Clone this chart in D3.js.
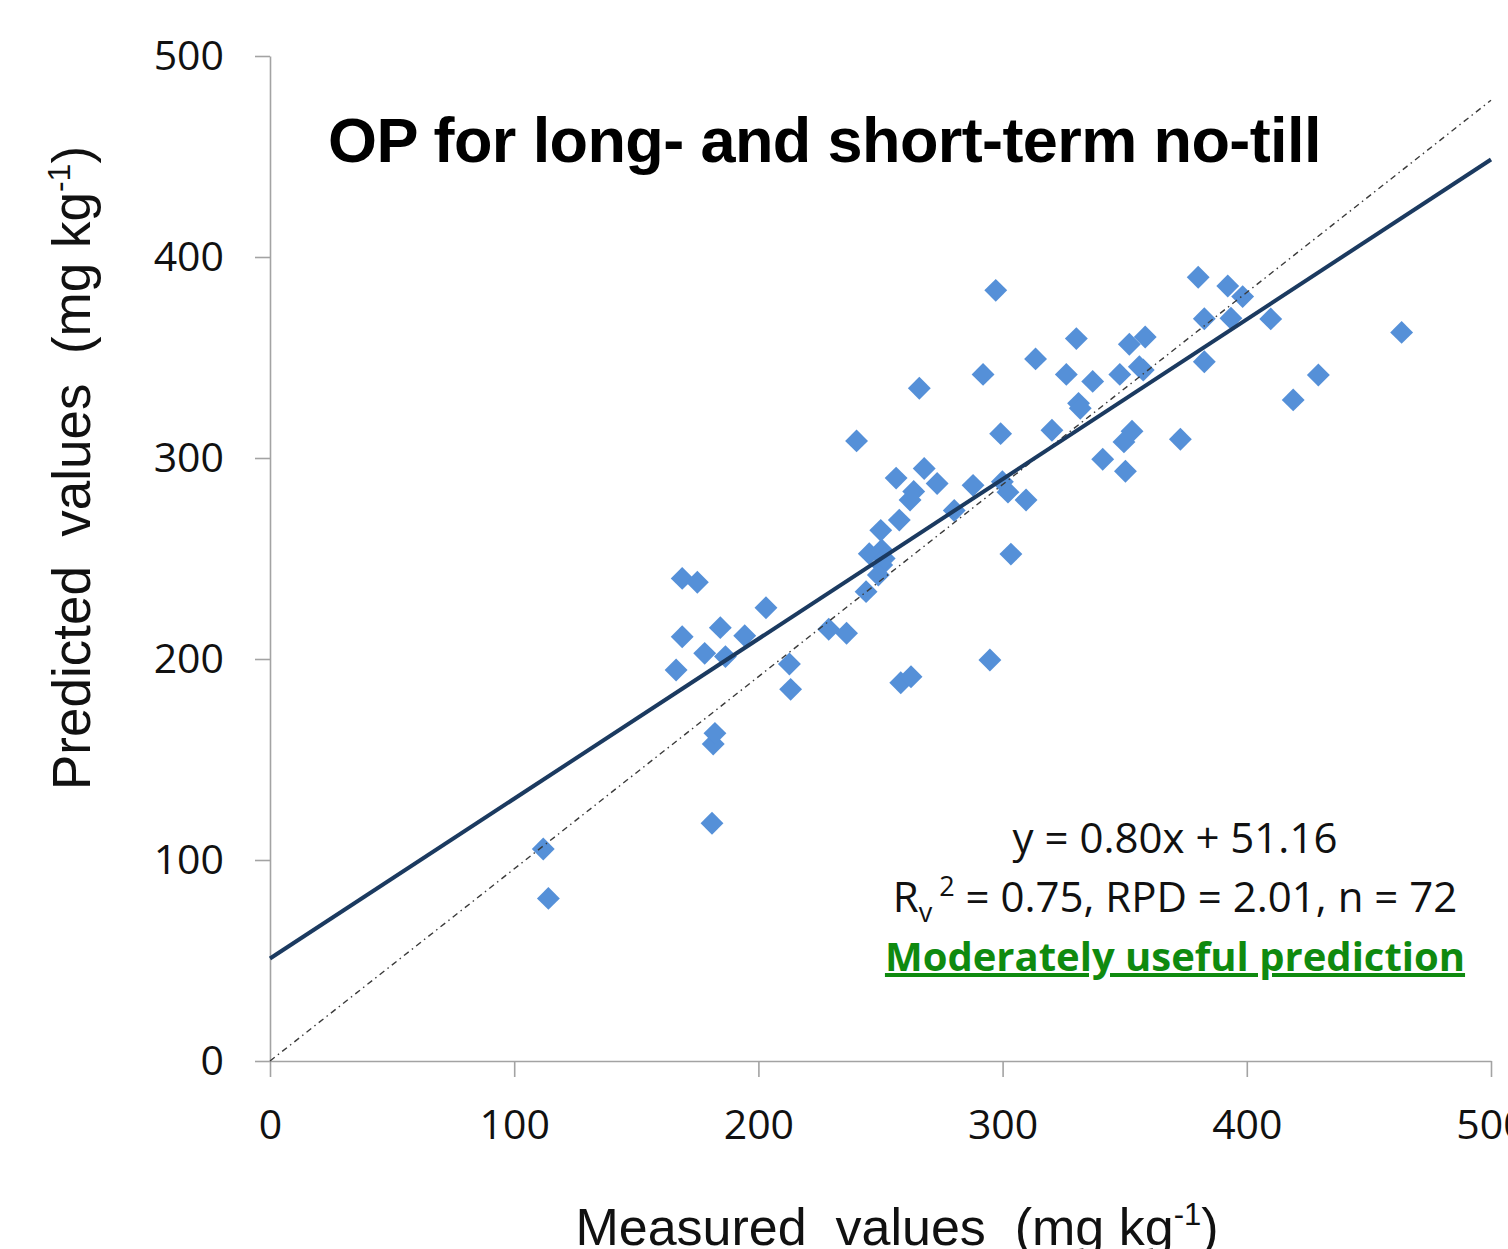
<!DOCTYPE html>
<html><head><meta charset="utf-8">
<script src="https://cdn.jsdelivr.net/npm/d3@7"></script>
<style>body{margin:0;background:#fff;overflow:hidden} svg{display:block}</style>
</head><body><svg id="c" width="1508" height="1249"></svg>
<script>
const measured = [111.9,114.0,166.3,168.8,168.8,175.0,178.0,181.0,181.5,182.2,184.4,186.5,194.4,203.1,212.7,213.2,228.8,236.1,
  240.2,244.1,245.4,249.1,250.5,250.5,250.1,251.5,256.4,257.7,258.3,262.1,262.5,263.6,265.9,267.9,273.2,280.2,287.9,292.0,
  294.8,297.2,299.2,299.9,302.2,303.4,309.6,313.5,320.2,326.1,330.2,331.1,331.8,336.9,341.0,348.0,349.7,350.3,351.9,353.0,
  356.0,357.6,358.4,372.8,380.1,382.6,382.6,392.2,393.5,398.3,409.8,419.0,429.3,463.4];
const predicted = [105.5,80.9,194.5,240.1,211.1,238.2,202.8,118.3,157.7,163.0,215.6,201.2,211.6,225.5,197.5,184.9,214.8,212.8,
  308.5,233.5,252.4,241.8,254.2,246.8,264.0,250.0,290.0,269.1,188.2,279.1,191.2,283.3,334.7,294.8,287.3,273.9,286.4,341.6,
  199.5,383.4,312.1,288.2,283.0,252.2,279.1,349.3,313.8,341.6,359.4,327.2,324.7,338.1,299.4,341.6,308.0,293.4,356.6,313.3,
  345.4,343.8,360.2,309.3,389.9,369.3,347.9,385.6,369.5,380.3,369.2,328.9,341.3,362.5];
const xTicks = [0,100,200,300,400,500];
const yTicks = [0,100,200,300,400,500];
const trendLine = [[0,51.0],[500,448.5]];
const refLine = [[0,0],[500,478]];
const titleText = "OP for long- and short-term no-till";
const eqText = "y = 0.80x + 51.16";
const statsParts = ["R","v"," 2"," = 0.75, RPD = 2.01, n = 72"];
const verdictText = "Moderately useful prediction";

const svg = d3.select("#c");
const x = d3.scaleLinear().domain([0,500]).range([270,1491]);
const y = d3.scaleLinear().domain([0,500]).range([1061,56]);
const axisColor = "#a3a3a3";
const tickFont = "'Open Sans', sans-serif";

// axes
const gx = svg.append("g").attr("transform","translate(0,1061)")
  .call(d3.axisBottom(x).tickValues(xTicks).tickSize(16).tickSizeOuter(0).tickFormat(d3.format("d")));
gx.selectAll("text").attr("y",49).attr("dy","0.71em");
const gy = svg.append("g").attr("transform","translate(270,0)")
  .call(d3.axisLeft(y).tickValues(yTicks).tickSize(15).tickSizeOuter(0).tickFormat(d3.format("d")));
gy.selectAll("text").attr("x",-46).attr("dy","0.34em");
[gx,gy].forEach(g=>{
  g.select(".domain").attr("stroke",axisColor).attr("stroke-width",1.6);
  g.selectAll(".tick line").attr("stroke",axisColor).attr("stroke-width",1.6);
  g.selectAll("text").attr("font-family",tickFont).attr("font-size",41).attr("fill","#111");
});

// points
const sq = d3.symbol().type(d3.symbolSquare).size(262);
svg.append("g").selectAll("path").data(measured).join("path")
  .attr("d",sq)
  .attr("transform",(d,i)=>`translate(${x(d)},${y(predicted[i])}) rotate(45)`)
  .attr("fill","#5590d8");

// lines
const line = d3.line().x(d=>x(d[0])).y(d=>y(d[1]));
svg.append("path").datum(refLine).attr("d",line).attr("fill","none")
  .attr("stroke","#3a3a3a").attr("stroke-width",1.4).attr("stroke-dasharray","6,4,1.5,4");
svg.append("path").datum(trendLine).attr("d",line).attr("fill","none")
  .attr("stroke","#1b3a60").attr("stroke-width",4);

// title
svg.append("text").attr("x",328).attr("y",162)
  .attr("font-family","'Liberation Sans', Arial, sans-serif").attr("font-weight","bold")
  .attr("font-size",63).attr("letter-spacing",-0.6).attr("fill","#000").text(titleText);

// axis titles
const titleFont = "'Liberation Sans', Arial, sans-serif";
const xl = svg.append("text").attr("x",897).attr("y",1245).attr("text-anchor","middle")
  .attr("font-family",titleFont).attr("font-size",52).attr("fill","#111").style("white-space","pre");
xl.append("tspan").text("Measured  values  (mg kg");
xl.append("tspan").attr("dy",-20).attr("font-size",31).text("-1");
xl.append("tspan").attr("dy",20).text(")");

const yl = svg.append("text").attr("transform","translate(90,468) rotate(-90)").attr("text-anchor","middle")
  .attr("font-family",titleFont).attr("font-size",53).attr("fill","#111").style("white-space","pre");
yl.append("tspan").text("Predicted  values  (mg kg");
yl.append("tspan").attr("dy",-20).attr("font-size",32).text("-1");
yl.append("tspan").attr("dy",20).text(")");

// annotation
const annFont = "'Open Sans', sans-serif";
svg.append("text").attr("x",1175).attr("y",853).attr("text-anchor","middle")
  .attr("font-family",annFont).attr("font-size",42).attr("fill","#111").text(eqText);
const st = svg.append("text").attr("x",1175).attr("y",912).attr("text-anchor","middle")
  .attr("font-family",annFont).attr("font-size",42).attr("fill","#111").style("white-space","pre");
st.append("tspan").text(statsParts[0]);
st.append("tspan").attr("dy",10).attr("font-size",27).text(statsParts[1]);
st.append("tspan").attr("dy",-26).attr("font-size",27).text(statsParts[2]);
st.append("tspan").attr("dy",16).text(statsParts[3]);
svg.append("text").attr("x",1175).attr("y",971).attr("text-anchor","middle")
  .attr("font-family",annFont).attr("font-weight","bold").attr("font-size",40)
  .attr("fill","#0f8a0f").attr("text-decoration","underline").text(verdictText);
</script></body></html>
